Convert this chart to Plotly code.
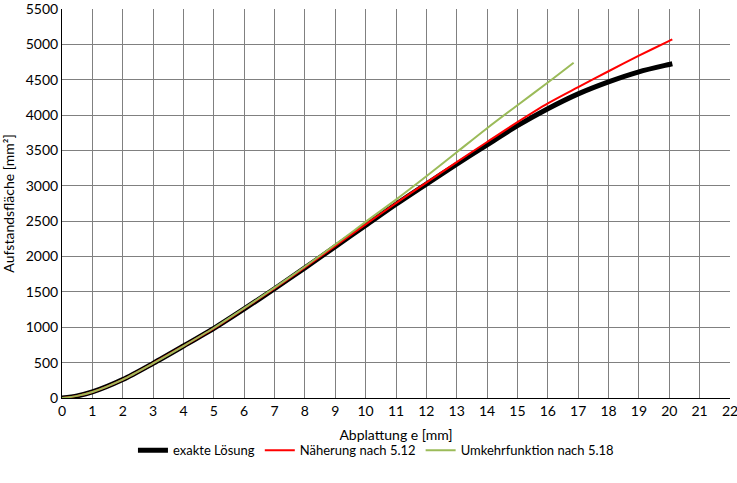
import plotly.graph_objects as go

# exakte Lösung
x_exakt = [0, 0.5, 1, 2, 3, 4, 5, 6, 7, 8, 9, 10, 11, 12, 13, 14, 15, 16, 17, 18, 19, 20, 20.1]
y_exakt = [0, 30, 85, 260, 490, 735, 985, 1260, 1545, 1840, 2140, 2440, 2740, 3025, 3305, 3580, 3850, 4090, 4300, 4470, 4612, 4716, 4726]

# Näherung nach 5.12
x_naeh = [0, 0.5, 1, 2, 3, 4, 5, 6, 7, 8, 9, 10, 11, 12, 13, 14, 15, 16, 17, 18, 19, 20, 20.1]
y_naeh = [0, 30, 85, 260, 490, 735, 985, 1265, 1550, 1845, 2150, 2455, 2755, 3045, 3335, 3620, 3900, 4165, 4395, 4620, 4840, 5050, 5072]

# Umkehrfunktion nach 5.18
x_umk = [0, 0.5, 1, 2, 3, 4, 5, 6, 7, 8, 9, 10, 11, 12, 13, 14, 15, 16, 16.85]
y_umk = [0, 30, 85, 260, 490, 735, 990, 1270, 1560, 1860, 2170, 2490, 2805, 3135, 3475, 3815, 4140, 4460, 4740]

x_ticks = list(range(0, 23))
y_ticks = list(range(0, 5501, 500))

fig = go.Figure()
fig.add_trace(go.Scatter(x=x_exakt, y=y_exakt, mode="lines", name="exakte Lösung",
                         line=dict(color="#000000", width=5, shape="spline", smoothing=0.8)))
fig.add_trace(go.Scatter(x=x_naeh, y=y_naeh, mode="lines", name="Näherung nach 5.12",
                         line=dict(color="#FF0000", width=2, shape="spline", smoothing=0.8)))
fig.add_trace(go.Scatter(x=x_umk, y=y_umk, mode="lines", name="Umkehrfunktion nach 5.18",
                         line=dict(color="#9BBB59", width=2, shape="spline", smoothing=0.8)))

font = "Lato, 'Open Sans', sans-serif"
fig.update_layout(
    width=737, height=483,
    margin=dict(l=62, r=7, t=9, b=85, autoexpand=False),
    plot_bgcolor="white", paper_bgcolor="white",
    font=dict(family=font, size=14, color="#000000"),
    showlegend=True,
    legend=dict(orientation="h", x=0.47, xanchor="center", y=-0.096, yanchor="top",
                font=dict(size=13), itemwidth=30, tracegroupgap=0),
    xaxis=dict(range=[0, 22.0001], tickvals=x_ticks, showgrid=True, gridcolor="#808080", gridwidth=1,
               zeroline=False, showline=True, linecolor="#000000", linewidth=1,
               ticks="", ticklabeloverflow="allow", automargin=False,
               title=dict(text="Abplattung e [mm]", font=dict(size=14), standoff=12),
               mirror=False),
    yaxis=dict(range=[0, 5500.01], tickvals=y_ticks, showgrid=True, gridcolor="#808080", gridwidth=1,
               zeroline=False, showline=True, linecolor="#000000", linewidth=1,
               ticks="", ticklabeloverflow="allow", automargin=False,
               title=dict(text="Aufstandsfläche [mm²]", font=dict(size=14), standoff=8)),
)
fig.write_html("out.html")
